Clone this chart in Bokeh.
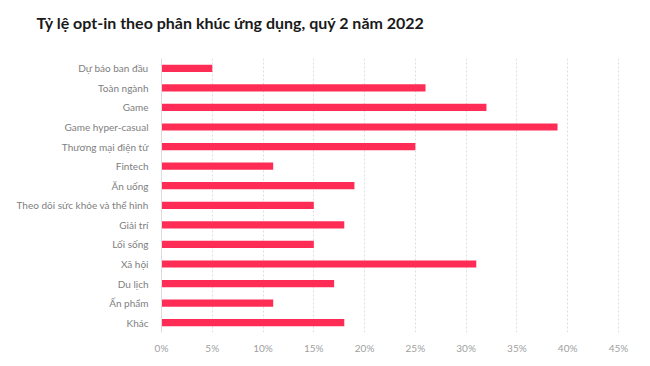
from bokeh.plotting import figure
from bokeh.models import Range1d, FactorRange, FixedTicker, Title
from bokeh.embed import file_html
from bokeh.resources import INLINE

categories = ["Dự báo ban đầu", "Toàn ngành", "Game", "Game hyper-casual",
              "Thương mại điện tử", "Fintech", "Ăn uống", "Theo dõi sức khỏe và thể hình",
              "Giải trí", "Lối sống", "Xã hội", "Du lịch", "Ấn phẩm", "Khác"]
values = [5, 26, 32, 39, 25, 11, 19, 15, 18, 15, 31, 17, 11, 18]
x_ticks = [0, 5, 10, 15, 20, 25, 30, 35, 40, 45]
tick_labels = {t: f"{t}%" for t in x_ticks}
title_text = "Tỷ lệ opt-in theo phân khúc ứng dụng, quý 2 năm 2022"

FONT = "Lato"

p = figure(width=634, height=360, output_backend="svg", toolbar_location=None,
           y_range=FactorRange(factors=list(reversed(categories))),
           x_range=Range1d(0, 45.3),
           min_border_left=161, min_border_right=13, min_border_top=0, min_border_bottom=28)

p.hbar(y=categories, right=values, left=0, height=0.37, color="#FF2D55", line_color=None)

# spacer between title and plot area
p.add_layout(Title(text=" ", text_font_size="1px", standoff=13), "above")
p.add_layout(Title(text=title_text, align="left", offset=-125, text_font=FONT,
                   text_font_size="16px", text_font_style="bold", text_color="#1a1a1a",
                   standoff=21), "above")

p.outline_line_color = None
p.background_fill_color = "white"
p.border_fill_color = "white"

p.xaxis.ticker = FixedTicker(ticks=x_ticks)
p.xaxis.major_label_overrides = tick_labels
p.xaxis.axis_line_color = None
p.xaxis.major_tick_line_color = None
p.xaxis.major_tick_out = 0
p.xaxis.major_tick_in = 0
p.xaxis.minor_tick_line_color = None
p.xaxis.major_label_text_color = "#a0a0a0"
p.xaxis.major_label_text_font = FONT
p.xaxis.major_label_text_font_size = "10px"
p.xaxis.major_label_standoff = 9

p.yaxis.axis_line_color = "#dcdcdc"
p.yaxis.major_tick_line_color = None
p.yaxis.major_tick_out = 0
p.yaxis.major_tick_in = 0
p.yaxis.minor_tick_line_color = None
p.yaxis.major_label_text_color = "#808080"
p.yaxis.major_label_text_font = FONT
p.yaxis.major_label_text_font_size = "10px"
p.yaxis.major_label_standoff = 13

p.xgrid.grid_line_color = "#dedede"
p.xgrid.grid_line_dash = "2 2"
p.ygrid.grid_line_color = None

open("out.html", "w").write(file_html(p, INLINE))
